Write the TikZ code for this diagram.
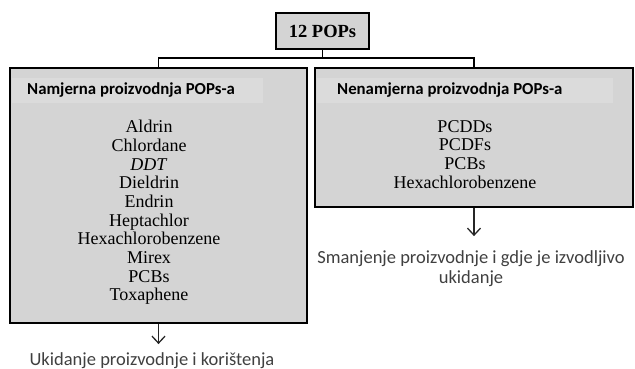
\documentclass[tikz,border=0pt]{standalone}
\usepackage{fontspec}
\setmainfont{Liberation Serif}
\newfontfamily\calib{Carlito}
\usetikzlibrary{arrows.meta}
\definecolor{boxfill}{RGB}{212,212,212}
\definecolor{bandfill}{RGB}{219,219,219}
\definecolor{txtgray}{RGB}{64,64,64}
\begin{document}
\begin{tikzpicture}[x=1pt,y=-1pt,
  boxstyle/.style={draw=black, line width=2.2pt, fill=boxfill, rectangle, inner sep=0pt},
  bandstyle/.style={fill=bandfill, draw=none},
  headstyle/.style={font=\calib\bfseries\fontsize{16.8}{18}\selectfont, anchor=base west, inner sep=0pt},
  liststyle/.style={font=\fontsize{18}{18.7}\selectfont, align=center, inner sep=0pt},
  conn/.style={line width=1.2pt, draw=black},
  arr/.style={line width=1.3pt, draw=black!85, -{Straight Barb[length=7pt,width=13pt,line width=1.3pt]}},
  outstyle/.style={font=\calib\fontsize{18.5}{20}\selectfont, text=txtgray, align=center, inner sep=0pt}]
\useasboundingbox (0,0) rectangle (635,369);
% top box
\node[boxstyle, minimum width=93pt, minimum height=36pt, font=\bfseries\fontsize{18.5}{20}\selectfont] (top) at (322.5,31) {12 POPs};
% main boxes
\node[boxstyle, minimum width=297pt, minimum height=255pt] (left) at (158.5,195.5) {};
\node[boxstyle, minimum width=318pt, minimum height=139pt] (right) at (474,137.5) {};
% header bands
\fill[bandstyle] (11.5,78) rectangle (263,103);
\fill[bandstyle] (316.5,78) rectangle (613,103);
\node[headstyle] (lhead) at (27,95) {Namjerna proizvodnja POPs-a};
\node[headstyle] (rhead) at (337,95) {Nenamjerna proizvodnja POPs-a};
% lists
\node[liststyle, anchor=north] (llist) at (149,120) {Aldrin\\Chlordane\\\textit{DDT}\\Dieldrin\\Endrin\\Heptachlor\\Hexachlorobenzene\\Mirex\\PCBs\\Toxaphene};
\node[liststyle, anchor=north] (rlist) at (465,120) {PCDDs\\PCDFs\\PCBs\\Hexachlorobenzene};
% connectors
\coordinate (bus) at (322.5,58);
\draw[conn] (top.south) -- (bus);
\draw[conn] (left.north) |- (bus) -| (right.north);
% outcomes
\node[outstyle, anchor=north] (lout) at (152,352) {Ukidanje proizvodnje i korištenja};
\node[outstyle, anchor=north] (rout) at (471,250) {Smanjenje proizvodnje i gdje je izvodljivo\\ukidanje};
\draw[arr] (left.south) -- ++(0,20) coordinate (la);
\draw[arr] (right.south) -- ++(0,28) coordinate (ra);
\end{tikzpicture}
\end{document}
